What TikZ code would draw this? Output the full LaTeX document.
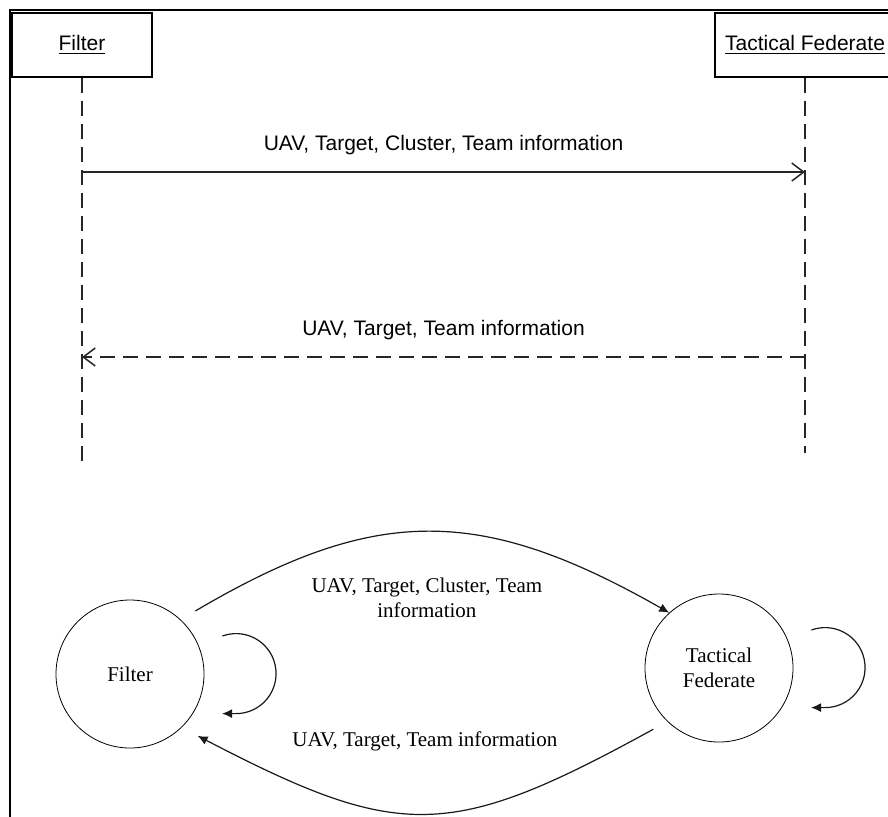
\documentclass[tikz,border=0pt]{standalone}
\usepackage{fontspec}
\setmainfont{Liberation Serif}
\setsansfont{Liberation Sans}
\usetikzlibrary{arrows.meta}
\begin{document}
\begin{tikzpicture}[x=0.5pt,y=-0.5pt,>={Latex[length=5pt,width=4.5pt]},
  font=\fontsize{10.5}{12.5}\selectfont,
  sans/.style={font=\sffamily\fontsize{10.5}{12.5}\selectfont},
  headbox/.style={draw,line width=0.75pt,minimum width=#1,minimum height=32pt,sans},
  lifeline/.style={draw=black!85,line width=0.75pt,dash pattern=on 7.5pt off 4pt},
  msg/.style={draw=black!85,line width=0.75pt,-{Straight Barb[length=6pt,width=9pt]}},
  state/.style={draw,circle,minimum size=74pt,inner sep=0pt,align=center},
  flow/.style={->,draw=black!90,line width=0.6pt}]
\clip (0,0) rectangle (888,816);
\fill[white] (0,0) rectangle (888,816);
\draw[line width=1.2pt] (10,10) rectangle (910,840);
\node[headbox=70pt] (filterhead) at (82,45) {\underline{Filter}};
\node[headbox=90pt] (tacticalhead) at (805,45) {\underline{Tactical Federate}};
\coordinate (filterend) at (82,467);
\coordinate (tacticalend) at (805,453);
\draw[lifeline] (filterhead) -- (filterend);
\draw[lifeline] (tacticalhead) -- (tacticalend);
\coordinate (fmsg1) at (82,172);
\coordinate (tmsg1) at (805,172);
\coordinate (tmsg2) at (805,357);
\coordinate (fmsg2) at (82,357);
\draw[msg] (fmsg1) -- node[above=5pt,sans]{UAV, Target, Cluster, Team information} (tmsg1);
\draw[msg,dash pattern=on 7.5pt off 4pt] (tmsg2) -- node[above=5pt,sans]{UAV, Target, Team information} (fmsg2);
\node[state] (filter) at (130,674) {Filter};
\node[state] (tactical) at (719,668) {Tactical\\Federate};
\draw[flow,shorten <=8.5pt] (filter.47) .. controls (375,505) and (480,505) .. (tactical.132)
  node[midway,below=19pt,align=center]{UAV, Target, Cluster, Team\\information};
\draw[flow,shorten <=8pt,shorten >=9pt] (tactical.226) .. controls (450,841) and (400,841) .. (filter.314)
  node[midway,above=27pt]{UAV, Target, Team information};
\draw[flow] ([shift={(18,-38)}]filter.east) arc[start angle=110,end angle=-90,radius=20pt] -- ++(-14,0);
\draw[flow] ([shift={(18,-38)}]tactical.east) arc[start angle=110,end angle=-90,radius=20pt] -- ++(-14,0);
\end{tikzpicture}
\end{document}
